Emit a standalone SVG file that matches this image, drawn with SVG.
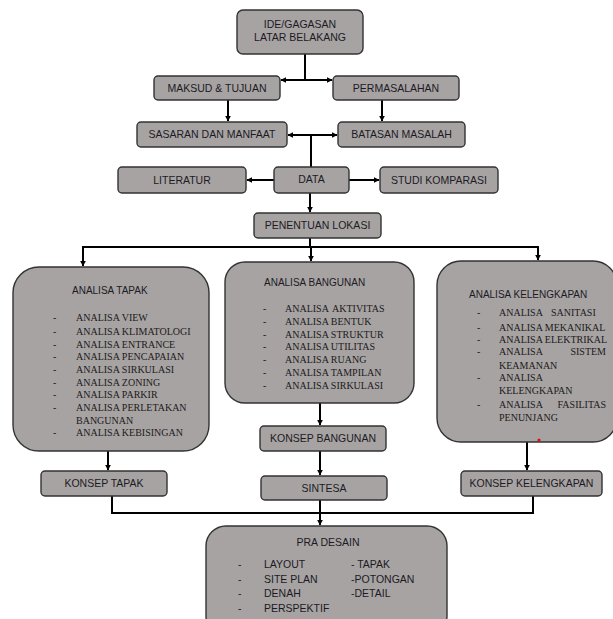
<svg xmlns="http://www.w3.org/2000/svg" width="613" height="619" viewBox="0 0 613 619">
<style>
.b{fill:#a7a3a3;stroke:#333;stroke-width:1.4}
.t{font-family:"Liberation Sans",Arial,sans-serif;font-size:10.5px;fill:#1c1a24;text-anchor:middle}
.h{font-family:"Liberation Sans",Arial,sans-serif;font-size:10px;fill:#1c1a24}
.s{font-family:"Liberation Serif","Times New Roman",serif;font-size:10px;fill:#1c1a1a}
.c{fill:none;stroke:#000;stroke-width:2}
.a{marker-end:url(#ah)}
</style>
<defs>
<marker id="ah" viewBox="0 0 10 10" refX="9" refY="5" markerWidth="3" markerHeight="3" orient="auto" markerUnits="strokeWidth"><path d="M0,0 L10,5 L0,10z" fill="#000"/></marker>
</defs>
<rect width="613" height="619" fill="#fff"/>
<g id="connectors">
<path class="c" d="M305,54 V80"/>
<path class="c a" d="M305,80 H281"/>
<path class="c a" d="M305,80 H332"/>
<path class="c a" d="M228,100 V121"/>
<path class="c a" d="M382,100 V121"/>
<path class="c a" d="M311,135 H288"/>
<path class="c a" d="M311,135 H337"/>
<path class="c" d="M311,135 V167"/>
<path class="c a" d="M274,180 H247"/>
<path class="c a" d="M349,180 H379"/>
<path class="c a" d="M310,193 V212"/>
<path class="c" d="M310,238 V247"/>
<path class="c a" d="M310,247 H83 V266"/>
<path class="c a" d="M310,247 H538 V260"/>
<path class="c a" d="M311,247 V261"/>
<path class="c a" d="M108,451 V470"/>
<path class="c a" d="M320,403 V425"/>
<path class="c a" d="M320,451 V475"/>
<path class="c a" d="M527,442 V470"/>
<path class="c" d="M112,496 V513 H533 V496"/>
<path class="c a" d="M320,500 V525"/>
</g>
<g id="ide">
<rect class="b" x="237" y="10" width="126" height="44" rx="6"/>
<text class="t" x="300" y="27.5">IDE/GAGASAN</text>
<text class="t" x="300" y="41">LATAR BELAKANG</text>
</g>
<g id="maksud">
<rect class="b" x="154" y="76" width="126" height="24" rx="4"/>
<text class="t" x="217" y="91.5">MAKSUD &amp; TUJUAN</text>
</g>
<g id="permasalahan">
<rect class="b" x="333" y="76" width="126" height="24" rx="4"/>
<text class="t" x="396" y="91.5">PERMASALAHAN</text>
</g>
<g id="sasaran">
<rect class="b" x="137" y="122" width="150" height="25" rx="4"/>
<text class="t" x="212" y="138">SASARAN DAN MANFAAT</text>
</g>
<g id="batasan">
<rect class="b" x="338" y="122" width="127" height="25" rx="4"/>
<text class="t" x="401.5" y="138">BATASAN MASALAH</text>
</g>
<g id="literatur">
<rect class="b" x="118" y="167" width="128" height="26" rx="4"/>
<text class="t" x="182" y="184">LITERATUR</text>
</g>
<g id="data">
<rect class="b" x="274" y="167" width="75" height="26" rx="4"/>
<text class="t" x="311.5" y="183">DATA</text>
</g>
<g id="studi">
<rect class="b" x="380" y="167" width="118" height="26" rx="4"/>
<text class="t" x="439" y="184">STUDI KOMPARASI</text>
</g>
<g id="penentuan">
<rect class="b" x="254" y="213" width="127" height="25" rx="4"/>
<text class="t" x="317.5" y="229">PENENTUAN LOKASI</text>
</g>
<g id="analisa-tapak">
<rect class="b" x="13" y="267" width="196" height="184" rx="26"/>
<text class="h" x="72" y="293.5">ANALISA TAPAK</text>
<g class="s">
<text x="53" y="321">-</text><text x="76" y="321">ANALISA  VIEW</text>
<text x="53" y="334.5">-</text><text x="76" y="334.5">ANALISA KLIMATOLOGI</text>
<text x="53" y="347.5">-</text><text x="76" y="347.5">ANALISA ENTRANCE</text>
<text x="53" y="360">-</text><text x="76" y="360">ANALISA PENCAPAIAN</text>
<text x="53" y="373">-</text><text x="76" y="373">ANALISA SIRKULASI</text>
<text x="53" y="386">-</text><text x="76" y="386">ANALISA ZONING</text>
<text x="53" y="398">-</text><text x="76" y="398">ANALISA PARKIR</text>
<text x="53" y="411">-</text><text x="76" y="411">ANALISA PERLETAKAN</text>
<text x="76" y="423.5">BANGUNAN</text>
<text x="53" y="436">-</text><text x="76" y="436">ANALISA KEBISINGAN</text>
</g>
</g>
<g id="analisa-bangunan">
<rect class="b" x="225" y="262" width="189" height="141" rx="20"/>
<text class="h" x="264" y="285.5">ANALISA BANGUNAN</text>
<g class="s">
<text x="263" y="312">-</text><text x="285" y="312">ANALISA</text><text x="332" y="312">AKTIVITAS</text>
<text x="263" y="324.5">-</text><text x="285" y="324.5">ANALISA BENTUK</text>
<text x="263" y="338">-</text><text x="285" y="338">ANALISA STRUKTUR</text>
<text x="263" y="350">-</text><text x="285" y="350">ANALISA UTILITAS</text>
<text x="263" y="362.5">-</text><text x="285" y="362.5">ANALISA RUANG</text>
<text x="263" y="376">-</text><text x="285" y="376">ANALISA TAMPILAN</text>
<text x="263" y="389">-</text><text x="285" y="389">ANALISA SIRKULASI</text>
</g>
</g>
<g id="analisa-kelengkapan">
<rect class="b" x="437" y="261" width="180" height="181" rx="24"/>
<text class="h" x="469" y="297.5">ANALISA KELENGKAPAN</text>
<g class="s">
<text x="477" y="316">-</text><text x="499" y="316">ANALISA</text><text x="551" y="316">SANITASI</text>
<text x="477" y="331">-</text><text x="499" y="331">ANALISA MEKANIKAL</text>
<text x="477" y="342.5">-</text><text x="499" y="342.5">ANALISA ELEKTRIKAL</text>
<text x="477" y="355">-</text><text x="499" y="355">ANALISA</text><text x="606" y="355" text-anchor="end">SISTEM</text>
<text x="499" y="368.5">KEAMANAN</text>
<text x="477" y="381">-</text><text x="499" y="381">ANALISA</text>
<text x="499" y="393.5">KELENGKAPAN</text>
<text x="477" y="408">-</text><text x="499" y="408">ANALISA</text><text x="606" y="408" text-anchor="end">FASILITAS</text>
<text x="499" y="421">PENUNJANG</text>
</g>
<circle cx="539" cy="440" r="1.6" fill="#e01010"/>
</g>
<g id="konsep-tapak">
<rect class="b" x="41" y="471" width="126" height="25" rx="4"/>
<text class="t" x="104" y="487">KONSEP TAPAK</text>
</g>
<g id="konsep-bangunan">
<rect class="b" x="260" y="426" width="126" height="25" rx="4"/>
<text class="t" x="323" y="442">KONSEP BANGUNAN</text>
</g>
<g id="sintesa">
<rect class="b" x="261" y="476" width="126" height="24" rx="4"/>
<text class="t" x="324" y="492">SINTESA</text>
</g>
<g id="konsep-kelengkapan">
<rect class="b" x="461" y="471" width="141" height="25" rx="4"/>
<text class="t" x="531.5" y="487">KONSEP KELENGKAPAN</text>
</g>
<g id="pra-desain">
<rect class="b" x="206" y="526" width="241" height="110" rx="20"/>
<text class="t" x="328" y="546">PRA DESAIN</text>
<g class="h" style="font-size:10.5px">
<text x="238" y="568">-</text><text x="264" y="568">LAYOUT</text><text x="351" y="568">- TAPAK</text>
<text x="238" y="583">-</text><text x="264" y="583">SITE PLAN</text><text x="351" y="583">-POTONGAN</text>
<text x="238" y="597">-</text><text x="264" y="597">DENAH</text><text x="351" y="597">-DETAIL</text>
<text x="238" y="612">-</text><text x="264" y="612">PERSPEKTIF</text>
</g>
</g>
</svg>
